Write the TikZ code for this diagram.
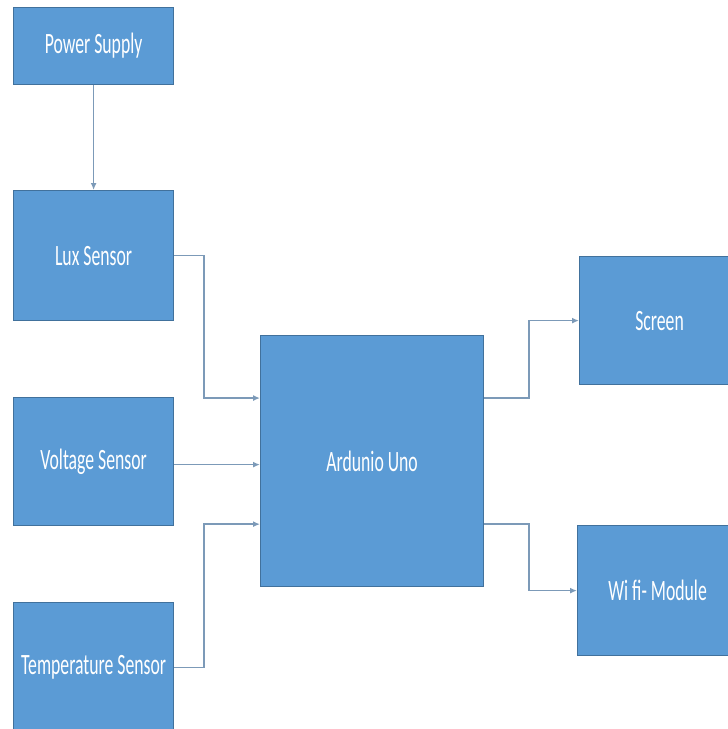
\documentclass[tikz,border=0pt]{standalone}
\usepackage{fontspec}
\setmainfont{Carlito}
\usetikzlibrary{arrows.meta}
\usetikzlibrary{calc}
\definecolor{blkfill}{HTML}{5B9BD5}
\definecolor{blkline}{HTML}{41719C}
\definecolor{wireclr}{HTML}{7C9AB8}
\newcommand{\blkw}{160pt}
\newcommand{\blkh}{130pt}
\newcommand{\squeeze}[1]{\scalebox{0.6}[1]{#1}}
\tikzset{
  blk/.style={draw=blkline, line width=1.2pt, fill=blkfill, text=white,
    anchor=north west, inner sep=0pt, minimum width=\blkw,
    minimum height=\blkh, font=\fontsize{29.5}{31}\selectfont},
  wire/.style={draw=wireclr, line width=1.6pt,
    -{Latex[length=7pt,width=6pt]}}
}
\begin{document}
\begin{tikzpicture}[x=1pt,y=-1pt]
  \useasboundingbox (0,0) rectangle (728,729);
  \fill[white] (0,0) rectangle (728,729);

  \node[blk, minimum height=77pt] (power) at (13,7) {\squeeze{Power Supply}};
  \node[blk] (lux) at (13,190) {\squeeze{Lux Sensor}};
  \node[blk, minimum height=128pt] (volt) at (13,397) {\squeeze{Voltage Sensor}};
  \node[blk] (temp) at (13,602) {\squeeze{Temperature Sensor}};
  \node[blk, minimum width=223pt, minimum height=251pt] (ardu) at (260,335)
    {\squeeze{Ardunio Uno}};
  \node[blk, minimum height=128pt] (screen) at (579,256) {\squeeze{Screen}};
  \node[blk] (wifi) at (577,525) {\squeeze{Wi fi- Module}};

  \coordinate (inA) at ($(ardu.north west)!0.25!(ardu.south west)$);
  \coordinate (inC) at ($(ardu.north west)!0.75!(ardu.south west)$);
  \coordinate (outA) at ($(ardu.north east)!0.25!(ardu.south east)$);
  \coordinate (outB) at ($(ardu.north east)!0.75!(ardu.south east)$);

  \draw[wire] (power.south) -- (lux.north);
  \draw[wire] (lux.east) -- ++(30,0) |- (inA);
  \draw[wire] ([yshift=-3pt]volt.east) -- ([yshift=-3pt]volt.east -| ardu.west);
  \draw[wire] (temp.east) -- ++(30,0) |- (inC);
  \draw[wire] (outA) -- ++(45,0) |- (screen.west);
  \draw[wire] (outB) -- ++(45,0) |- (wifi.west);
\end{tikzpicture}
\end{document}
